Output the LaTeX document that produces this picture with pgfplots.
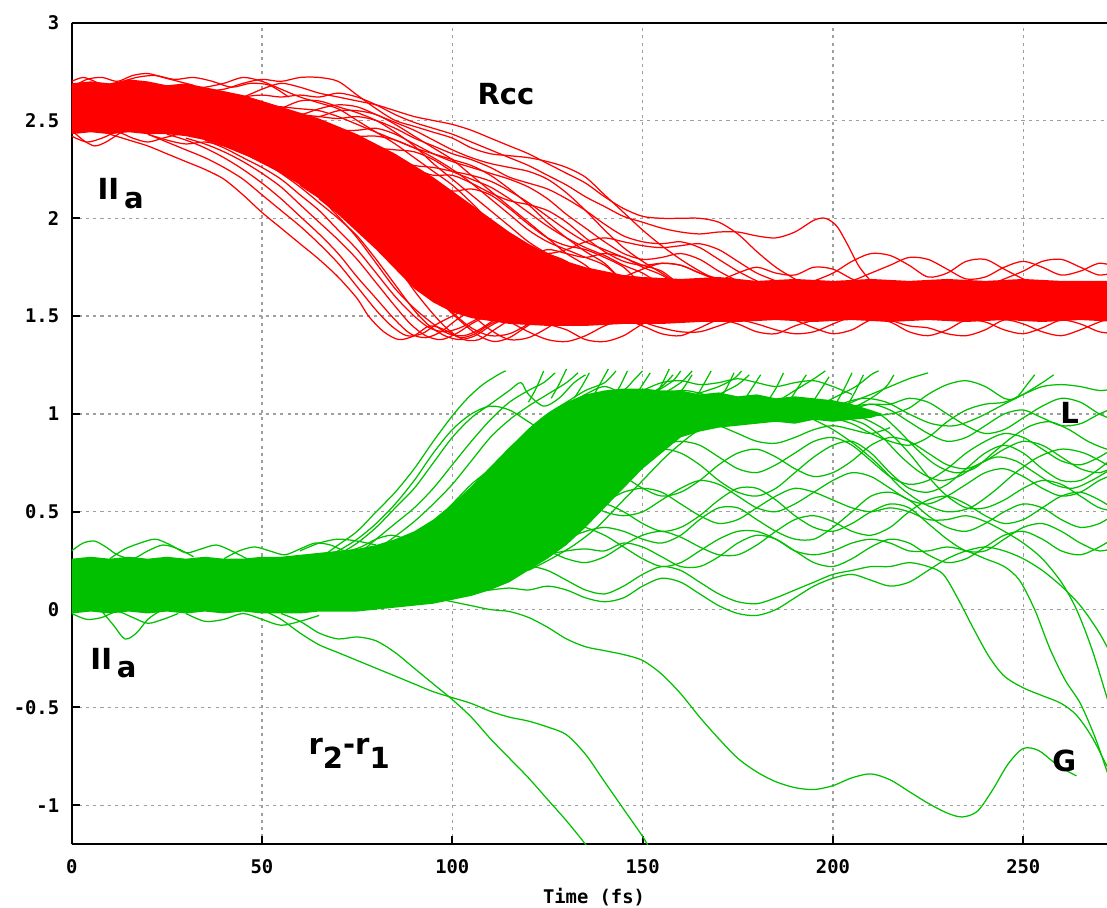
\documentclass[border=0pt]{standalone}
\usepackage{pgfplots}
\pgfplotsset{compat=1.18}
\usepackage{fontspec}
\setmainfont{DejaVu Sans}
\newfontfamily\monofam{DejaVu Sans Mono}
\newcommand\tickfont{\monofam\bfseries\fontsize{6.8}{8}\selectfont}
\newcommand\annfont{\bfseries\fontsize{10.5}{12}\selectfont}
\definecolor{gpred}{RGB}{255,0,0}
\definecolor{gpgreen}{RGB}{0,192,0}
\pgfplotsset{
  rl/.style={gpred, line width=0.45pt, smooth, no markers},
  gl/.style={gpgreen, line width=0.45pt, smooth, no markers},
}
\begin{document}
\begin{tikzpicture}
\begin{axis}[
  scale only axis, width=374.1pt, height=296.9pt,
  xmin=0, xmax=272, ymin=-1.2, ymax=3,
  axis x line*=bottom, axis y line*=left,
  axis line style={-, line width=0.7pt, black},
  every outer x axis line/.append style={-},
  every outer y axis line/.append style={-},
  xtick={0,50,100,150,200,250},
  ytick={-1,-0.5,0,0.5,1,1.5,2,2.5,3},
  tick align=inside, major tick length=3pt,
  tick style={line width=0.7pt, black},
  grid=major,
  major grid style={draw=gray!75, line width=0.5pt, dash pattern=on 1.1pt off 1.5pt},
  /pgf/number format/assume math mode=true,
  ticklabel style={font=\tickfont},
  yticklabel style={xshift=-1pt},
  xticklabel style={yshift=-2pt},
  xlabel={Time (fs)},
  xlabel style={font=\tickfont, at={(axis description cs:0.5045,0)}, anchor=center, yshift=-19.2pt},
]
% ---------- red dense core ----------
\addplot[fill=gpred, draw=none] coordinates {
(0,2.69)(5,2.70)(10,2.69)(15,2.71)(20,2.70)(25,2.68)(30,2.69)(35,2.67)(40,2.65)(45,2.63)(50,2.60)(55,2.57)(60,2.54)(65,2.51)(70,2.47)(75,2.43)(80,2.38)(85,2.33)(90,2.27)(95,2.21)(100,2.14)(105,2.07)(110,2.00)(115,1.93)(120,1.87)(125,1.82)(130,1.78)(135,1.75)(140,1.73)(145,1.71)(150,1.70)(160,1.69)(170,1.70)(180,1.68)(190,1.69)(200,1.68)(210,1.69)(220,1.68)(230,1.69)(240,1.68)(250,1.69)(260,1.68)(275,1.68)
(275,1.47)(265,1.48)(255,1.47)(245,1.48)(235,1.47)(225,1.48)(215,1.47)(205,1.48)(195,1.47)(185,1.48)(175,1.47)(165,1.47)(155,1.46)(145,1.46)(135,1.45)(125,1.45)(115,1.46)(105,1.49)(100,1.52)(95,1.57)(90,1.64)(85,1.74)(80,1.84)(75,1.93)(70,2.02)(65,2.10)(60,2.17)(55,2.23)(50,2.28)(45,2.33)(40,2.37)(35,2.40)(30,2.42)(25,2.43)(20,2.43)(15,2.44)(10,2.43)(5,2.44)(0,2.43)};
% ---------- red lines ----------
\addplot[rl] coordinates {(0,2.67)(4,2.71)(8,2.72)(12,2.70)(16,2.73)(20,2.74)(24,2.72)(28,2.70)(32,2.68)};
\addplot[rl] coordinates {(12,2.69)(17,2.72)(22,2.73)(27,2.71)(32,2.72)(37,2.70)(42,2.67)(47,2.69)(52,2.68)(57,2.62)};
\addplot[rl] coordinates {(0,2.70)(3,2.72)(6,2.70)(9,2.67)};
\addplot[rl] coordinates {(0,2.42)(4,2.39)(8,2.41)(12,2.44)(16,2.41)(20,2.39)(24,2.41)(28,2.43)};
\addplot[rl] coordinates {(0,2.45)(3,2.40)(6,2.37)(9,2.39)(13,2.44)};
\addplot[rl] coordinates {(20,2.43)(25,2.40)(30,2.38)(35,2.39)(40,2.37)(45,2.34)};
% late droppers
\addplot[rl] coordinates {(35,2.65)(40,2.66)(45,2.69)(50,2.71)(55,2.70)(60,2.72)(65,2.72)(70,2.70)(75,2.63)(80,2.56)(85,2.50)(90,2.47)(95,2.44)(100,2.41)(105,2.36)(110,2.33)(115,2.32)(120,2.31)(125,2.29)(130,2.26)(135,2.21)(140,2.12)(145,2.03)(150,1.94)(155,1.86)(160,1.79)(165,1.73)(170,1.68)(175,1.64)};
\addplot[rl] coordinates {(40,2.60)(45,2.62)(50,2.66)(55,2.69)(60,2.67)(65,2.64)(70,2.62)(75,2.60)(80,2.58)(85,2.55)(90,2.52)(95,2.50)(100,2.48)(105,2.45)(110,2.41)(115,2.37)(120,2.33)(125,2.28)(130,2.23)(135,2.18)(140,2.11)(145,2.05)(150,2.01)(155,2.00)(160,2.00)(165,2.00)(170,1.98)(175,1.92)(180,1.83)(185,1.75)(190,1.69)(195,1.64)};
\addplot[rl] coordinates {(40,2.60)(45,2.62)(50,2.63)(55,2.62)(60,2.63)(65,2.62)(70,2.64)(75,2.62)(80,2.58)(85,2.53)(90,2.49)(95,2.46)(100,2.43)(105,2.39)(110,2.35)(115,2.31)(120,2.27)(125,2.22)(130,2.17)(135,2.11)(140,2.06)(145,2.01)(150,1.98)(155,1.95)(160,1.93)(165,1.92)(170,1.93)(175,1.93)(180,1.91)(185,1.90)(190,1.93)(195,1.99)(198,2.00)(201,1.96)(204,1.86)(207,1.75)(211,1.66)(215,1.62)};
\addplot[rl] coordinates {(50,2.55)(55,2.54)(60,2.53)(65,2.52)(70,2.51)(75,2.52)(80,2.50)(85,2.46)(90,2.41)(95,2.37)(100,2.33)(105,2.30)(110,2.26)(115,2.21)(120,2.18)(125,2.15)(130,2.10)(135,2.04)(140,1.97)(145,1.91)(150,1.88)(155,1.87)(160,1.88)(165,1.85)(170,1.79)(175,1.73)(180,1.68)(185,1.64)};
\addplot[rl] coordinates {(60,2.48)(65,2.47)(70,2.45)(75,2.45)(80,2.46)(85,2.43)(90,2.38)(95,2.33)(100,2.29)(105,2.26)(110,2.23)(115,2.20)(120,2.16)(125,2.10)(130,2.02)(135,1.95)(140,1.88)(145,1.82)(150,1.79)(155,1.80)(160,1.82)(165,1.79)(170,1.73)(175,1.68)(180,1.64)};
\addplot[rl] coordinates {(70,2.40)(75,2.38)(80,2.36)(85,2.35)(90,2.34)(95,2.30)(100,2.24)(105,2.20)(110,2.16)(115,2.10)(120,2.03)(125,1.96)(130,1.90)(135,1.85)(140,1.81)(145,1.76)(150,1.72)(155,1.66)(160,1.63)};
\addplot[rl] coordinates {(80,2.30)(85,2.28)(90,2.25)(95,2.22)(100,2.22)(105,2.18)(110,2.13)(115,2.09)(120,2.07)(125,2.04)(130,1.98)(135,1.90)(140,1.83)(145,1.78)(150,1.76)(155,1.77)(160,1.76)(165,1.72)(170,1.68)(175,1.64)};
\addplot[rl] coordinates {(115,1.88)(120,1.84)(125,1.82)(130,1.84)(135,1.88)(140,1.90)(145,1.88)(150,1.86)(155,1.85)(160,1.86)(165,1.87)(170,1.84)(175,1.78)(180,1.72)(185,1.68)(190,1.64)};
\addplot[rl] coordinates {(55,2.56)(60,2.60)(65,2.60)(70,2.57)(75,2.54)(80,2.50)(85,2.44)(90,2.37)(95,2.28)(100,2.20)(105,2.12)(110,2.04)(115,1.96)(120,1.88)(125,1.82)(130,1.78)(135,1.70)(140,1.65)};
\addplot[rl] coordinates {(55,2.52)(60,2.52)(65,2.52)(70,2.55)(75,2.55)(80,2.53)(85,2.48)(90,2.42)(95,2.36)(100,2.30)(105,2.22)(110,2.14)(115,2.06)(120,1.98)(125,1.90)(130,1.82)(135,1.76)(140,1.68)(145,1.64)};
\addplot[rl] coordinates {(50,2.58)(55,2.57)(60,2.56)(65,2.55)(70,2.52)(75,2.48)(80,2.44)(85,2.40)(90,2.36)(95,2.33)(100,2.30)(105,2.27)(110,2.22)(115,2.15)(120,2.07)(125,1.98)(130,1.90)(135,1.83)(140,1.77)(145,1.68)(150,1.64)};
\addplot[rl] coordinates {(55,2.54)(60,2.53)(65,2.56)(70,2.58)(75,2.57)(80,2.53)(85,2.49)(90,2.45)(95,2.40)(100,2.35)(105,2.31)(110,2.28)(115,2.26)(120,2.24)(125,2.20)(130,2.13)(135,2.04)(140,1.94)(145,1.85)(150,1.78)(155,1.72)(160,1.66)(165,1.63)};
\addplot[rl] coordinates {(70,2.44)(75,2.42)(80,2.42)(85,2.40)(90,2.36)(95,2.31)(100,2.25)(105,2.18)(110,2.10)(115,2.02)(120,1.94)(125,1.88)(130,1.84)(135,1.80)(140,1.76)(145,1.68)(150,1.64)};
\addplot[rl] coordinates {(85,2.30)(90,2.27)(95,2.26)(100,2.24)(105,2.22)(110,2.19)(115,2.14)(120,2.08)(125,2.01)(130,1.94)(135,1.88)(140,1.84)(145,1.80)(150,1.76)(155,1.73)(160,1.66)(165,1.63)};
\addplot[rl] coordinates {(95,2.18)(100,2.14)(105,2.15)(110,2.12)(115,2.05)(120,1.97)(125,1.90)(130,1.86)(135,1.84)(140,1.80)(145,1.75)(150,1.66)(155,1.63)};
\addplot[rl] coordinates {(30,2.66)(35,2.67)(40,2.69)(45,2.72)(50,2.70)(55,2.66)(60,2.62)(65,2.59)(70,2.56)(75,2.50)(80,2.44)(85,2.38)(90,2.31)(95,2.24)(100,2.17)(105,2.08)(110,1.98)};
% early droppers
\addplot[rl] coordinates {(10,2.43)(15,2.40)(20,2.37)(25,2.33)(30,2.29)(35,2.25)(40,2.20)(45,2.12)(50,2.03)(55,1.95)(60,1.87)(65,1.79)(70,1.70)(75,1.59)(78,1.50)(82,1.42)(86,1.38)(90,1.40)(94,1.45)(98,1.43)(102,1.39)(106,1.41)(110,1.46)(114,1.49)(118,1.52)};
\addplot[rl] coordinates {(20,2.43)(25,2.39)(30,2.35)(35,2.31)(40,2.26)(45,2.20)(50,2.12)(55,2.04)(60,1.96)(65,1.87)(70,1.77)(75,1.65)(80,1.53)(84,1.45)(88,1.40)(92,1.41)(96,1.46)(100,1.50)(104,1.54)};
\addplot[rl] coordinates {(30,2.41)(35,2.38)(40,2.34)(45,2.29)(50,2.23)(55,2.16)(60,2.07)(65,1.98)(70,1.89)(75,1.79)(80,1.67)(85,1.55)(89,1.46)(93,1.40)(97,1.38)(101,1.41)(105,1.46)(109,1.50)(113,1.53)};
\addplot[rl] coordinates {(40,2.37)(45,2.33)(50,2.29)(55,2.23)(60,2.16)(65,2.08)(70,2.00)(75,1.91)(80,1.79)(85,1.66)(90,1.53)(94,1.45)(98,1.40)(102,1.38)(106,1.40)(110,1.45)(114,1.49)(118,1.52)};
\addplot[rl] coordinates {(50,2.29)(55,2.26)(60,2.21)(65,2.13)(70,2.05)(75,1.97)(80,1.88)(85,1.77)(90,1.63)(95,1.51)(99,1.43)(103,1.38)(107,1.38)(111,1.43)(115,1.48)(119,1.52)};
\addplot[rl] coordinates {(55,2.24)(58,2.20)(64,2.16)(70,2.09)(77,1.99)(84,1.87)(91,1.71)(97,1.57)(103,1.46)(107,1.40)(111,1.37)(115,1.39)(119,1.44)(123,1.49)(127,1.52)};
\addplot[rl] coordinates {(60,2.17)(65,2.11)(71,2.09)(78,2.03)(85,1.93)(92,1.79)(99,1.63)(105,1.51)(110,1.43)(115,1.38)(120,1.39)(125,1.44)(129,1.49)(133,1.52)};
\addplot[rl] coordinates {(25,2.43)(30,2.40)(35,2.36)(40,2.31)(45,2.25)(50,2.18)(55,2.10)(60,2.01)(65,1.92)(70,1.82)(75,1.70)(80,1.59)(85,1.48)(89,1.41)(93,1.39)(97,1.42)(101,1.48)(105,1.53)};
\addplot[rl] coordinates {(65,2.10)(70,2.03)(76,1.98)(82,1.90)(88,1.78)(94,1.64)(100,1.52)(105,1.44)(110,1.40)(115,1.41)(120,1.46)(124,1.51)};
\addplot[rl] coordinates {(35,2.40)(40,2.36)(45,2.31)(50,2.26)(55,2.20)(60,2.12)(65,2.04)(70,1.94)(75,1.84)(80,1.72)(85,1.60)(90,1.50)(94,1.44)(98,1.42)(102,1.44)(106,1.48)(110,1.52)};
\addplot[rl] coordinates {(45,2.34)(50,2.31)(55,2.27)(60,2.20)(65,2.11)(70,2.01)(75,1.90)(80,1.77)(85,1.64)(90,1.54)(95,1.46)(99,1.41)(103,1.40)(107,1.43)(111,1.48)(115,1.52)};
% band fringes after transition
\addplot[rl] coordinates {(110,1.50)(115,1.47)(120,1.42)(125,1.38)(130,1.37)(135,1.40)(140,1.45)(145,1.48)(150,1.45)(155,1.41)(160,1.40)(165,1.44)(170,1.48)(175,1.46)(180,1.42)(185,1.41)(190,1.45)(195,1.48)(200,1.51)};
\addplot[rl] coordinates {(185,1.51)(190,1.48)(195,1.44)(200,1.41)(205,1.43)(210,1.48)(215,1.47)(220,1.42)(225,1.40)(230,1.43)(235,1.48)(240,1.47)(245,1.43)(250,1.41)(255,1.44)(260,1.48)(265,1.46)(270,1.42)(275,1.41)};
\addplot[rl] coordinates {(120,1.50)(125,1.46)(130,1.43)(135,1.38)(140,1.37)(145,1.40)(150,1.46)(155,1.50)};
\addplot[rl] coordinates {(145,1.51)(150,1.47)(155,1.44)(160,1.42)(165,1.42)(170,1.45)(175,1.48)(180,1.46)(185,1.43)(190,1.41)(195,1.42)(200,1.46)(205,1.50)};
\addplot[rl] coordinates {(210,1.51)(215,1.48)(220,1.45)(225,1.44)(230,1.41)(235,1.40)(240,1.43)(245,1.48)(250,1.46)(255,1.42)(260,1.40)(265,1.43)(270,1.47)(275,1.50)};
\addplot[rl] coordinates {(190,1.65)(195,1.68)(200,1.72)(205,1.78)(210,1.82)(215,1.81)(220,1.76)(225,1.70)(230,1.72)(235,1.78)(240,1.79)(245,1.74)(250,1.69)(255,1.65)};
\addplot[rl] coordinates {(200,1.65)(205,1.68)(210,1.72)(215,1.76)(220,1.80)(225,1.79)(230,1.74)(235,1.69)(240,1.70)(245,1.75)(250,1.78)(255,1.75)(260,1.71)(265,1.73)(270,1.77)(275,1.75)};
\addplot[rl] coordinates {(140,1.66)(145,1.70)(150,1.74)(155,1.77)(160,1.76)(165,1.72)(170,1.69)(175,1.65)};
\addplot[rl] coordinates {(165,1.65)(170,1.68)(175,1.72)(180,1.75)(185,1.72)(190,1.71)(195,1.75)(200,1.74)(205,1.69)(210,1.65)};
\addplot[rl] coordinates {(240,1.65)(245,1.69)(250,1.73)(255,1.78)(260,1.79)(265,1.75)(270,1.71)(275,1.73)};
\addplot[rl] coordinates {(120,1.80)(125,1.84)(130,1.82)(135,1.80)(140,1.82)(145,1.80)(150,1.75)(155,1.71)(160,1.65)};
% ---------- green dense core ----------
\addplot[fill=gpgreen, draw=none] coordinates {
(0,0.26)(5,0.27)(10,0.26)(15,0.27)(20,0.26)(25,0.27)(30,0.26)(35,0.27)(40,0.26)(45,0.26)(50,0.27)(55,0.27)(60,0.28)(65,0.29)(70,0.30)(75,0.31)(80,0.33)(85,0.36)(90,0.40)(95,0.46)(100,0.54)(105,0.63)(110,0.73)(115,0.83)(120,0.92)(125,1.00)(130,1.06)(135,1.10)(140,1.12)(145,1.13)(150,1.13)(155,1.12)(160,1.12)(165,1.10)(170,1.11)(175,1.09)(180,1.10)(185,1.08)(190,1.09)(195,1.08)(200,1.07)(205,1.05)(210,1.02)(213,1.00)
(210,0.98)(205,0.97)(200,0.96)(195,0.97)(190,0.95)(185,0.96)(180,0.95)(175,0.94)(170,0.93)(165,0.91)(160,0.88)(155,0.80)(150,0.72)(145,0.62)(140,0.52)(135,0.42)(130,0.33)(125,0.26)(120,0.20)(115,0.14)(110,0.10)(105,0.07)(100,0.05)(95,0.03)(90,0.02)(85,0.01)(80,0.0)(75,-0.01)(70,-0.01)(65,-0.01)(60,-0.02)(55,-0.02)(50,-0.02)(45,-0.01)(40,-0.02)(35,-0.01)(30,-0.02)(25,-0.01)(20,-0.02)(15,-0.01)(10,-0.02)(5,-0.01)(0,-0.02)};
% ---------- green lines ----------
\addplot[gl] coordinates {(0,0.30)(3,0.34)(6,0.35)(9,0.32)(12,0.28)(16,0.26)(20,0.30)(24,0.33)(28,0.31)(32,0.27)};
\addplot[gl] coordinates {(10,0.26)(14,0.31)(18,0.34)(22,0.36)(26,0.33)(30,0.29)(34,0.31)(38,0.33)(42,0.30)(46,0.26)};
\addplot[gl] coordinates {(40,0.26)(44,0.30)(48,0.32)(52,0.30)(56,0.28)(60,0.31)(64,0.34)(68,0.33)(72,0.30)(76,0.32)(80,0.36)(84,0.38)(88,0.36)(92,0.34)};
\addplot[gl] coordinates {(0,-0.02)(4,-0.05)(8,-0.04)(12,-0.01)(16,-0.04)(20,-0.07)(24,-0.05)(28,-0.02)};
\addplot[gl] coordinates {(8,-0.01)(11,-0.08)(14,-0.15)(17,-0.12)(20,-0.05)(23,-0.01)};
\addplot[gl] coordinates {(30,-0.02)(35,-0.06)(40,-0.05)(45,-0.02)(50,-0.05)(55,-0.08)(60,-0.06)(65,-0.03)};
\addplot[gl] coordinates {(60,0.30)(65,0.34)(70,0.36)(75,0.35)(80,0.33)};
% risers
\addplot[gl] coordinates {(60,0.20)(65,0.26)(70,0.33)(75,0.40)(80,0.50)(85,0.60)(90,0.72)(95,0.86)(100,0.99)(104,1.08)(108,1.15)(112,1.20)(114,1.22)};
\addplot[gl] coordinates {(65,0.22)(70,0.28)(75,0.34)(80,0.42)(85,0.52)(90,0.62)(95,0.75)(100,0.88)(105,0.98)(110,1.05)(115,1.12)(118,1.16)(120,1.10)(124,1.04)(128,1.08)(132,1.16)(135,1.20)};
\addplot[gl] coordinates {(70,0.22)(75,0.28)(80,0.36)(85,0.44)(90,0.52)(95,0.62)(100,0.74)(105,0.86)(110,0.97)(115,1.06)(120,1.12)(124,1.16)(127,1.21)};
\addplot[gl] coordinates {(72,0.20)(78,0.28)(84,0.36)(90,0.45)(95,0.54)(100,0.64)(105,0.76)(110,0.88)(115,0.97)(120,1.04)(125,1.10)(130,1.16)(133,1.21)};
\addplot[gl] coordinates {(80,0.22)(85,0.30)(90,0.36)(95,0.44)(100,0.54)(105,0.64)(110,0.72)(115,0.82)(120,0.92)(125,1.00)(130,1.06)(135,1.12)(140,1.16)(143,1.22)};
\addplot[gl] coordinates {(85,0.20)(90,0.26)(95,0.33)(100,0.42)(105,0.52)(110,0.62)(115,0.72)(120,0.84)(125,0.95)(130,1.04)(135,1.10)(140,1.14)(145,1.10)(150,1.06)(155,1.10)(160,1.16)(163,1.22)};
\addplot[gl] coordinates {(88,0.20)(94,0.26)(100,0.34)(105,0.42)(110,0.52)(115,0.63)(120,0.74)(125,0.84)(130,0.93)(135,1.00)(140,1.07)(145,1.12)(148,1.18)(150,1.22)};
\addplot[gl] coordinates {(92,0.20)(98,0.27)(104,0.35)(110,0.44)(115,0.52)(120,0.62)(125,0.73)(130,0.84)(135,0.94)(140,1.02)(145,1.08)(150,1.12)(155,1.10)(160,1.06)(165,1.06)(170,1.10)(175,1.15)(178,1.20)};
\addplot[gl] coordinates {(95,0.20)(100,0.25)(106,0.32)(112,0.42)(118,0.52)(124,0.64)(130,0.76)(136,0.88)(142,0.98)(148,1.06)(154,1.12)(158,1.17)(160,1.22)};
\addplot[gl] coordinates {(100,0.22)(106,0.28)(112,0.35)(118,0.45)(124,0.56)(130,0.68)(136,0.80)(142,0.92)(148,1.02)(154,1.08)(160,1.12)(166,1.10)(172,1.05)(178,1.02)(184,1.05)(190,1.12)(195,1.18)(198,1.22)};
\addplot[gl] coordinates {(105,0.20)(110,0.26)(116,0.34)(122,0.44)(128,0.56)(134,0.68)(140,0.80)(146,0.90)(152,0.98)(158,1.05)(164,1.10)(170,1.14)(174,1.18)(176,1.22)};
\addplot[gl] coordinates {(110,0.22)(116,0.28)(122,0.36)(128,0.46)(134,0.58)(140,0.70)(146,0.82)(152,0.92)(158,1.00)(164,1.06)(170,1.08)(176,1.05)(182,1.00)(188,0.98)(194,1.02)(200,1.08)(206,1.14)(210,1.20)(212,1.22)};
\addplot[gl] coordinates {(112,0.18)(118,0.24)(124,0.30)(130,0.40)(136,0.52)(142,0.64)(148,0.76)(154,0.86)(160,0.94)(166,1.00)(172,1.04)(178,1.02)(184,0.98)(190,0.97)(196,1.00)(202,1.05)(208,1.08)(214,1.06)(220,1.00)(226,0.95)(232,0.94)(238,0.98)(244,1.04)(250,1.10)(255,1.16)(258,1.20)};
\addplot[gl] coordinates {(120,0.20)(126,0.26)(132,0.33)(138,0.42)(144,0.54)(150,0.66)(156,0.78)(162,0.88)(168,0.96)(174,1.02)(180,1.06)(186,1.04)(192,1.00)(198,0.98)(204,1.02)(210,1.08)(214,1.14)(216,1.20)};
\addplot[gl] coordinates {(65,0.25)(70,0.30)(75,0.36)(80,0.44)(85,0.54)(90,0.66)(95,0.80)(100,0.92)(105,1.00)(110,1.04)(115,1.02)(120,0.96)(125,0.90)(130,0.86)(135,0.88)(140,0.94)(145,1.02)(150,1.08)(155,1.14)(158,1.20)};
\addplot[gl] coordinates {(150,0.80)(155,0.86)(160,0.92)(165,0.96)(170,0.94)(175,0.90)(180,0.86)(185,0.85)(190,0.88)(195,0.92)(200,0.94)(205,0.92)(210,0.90)(215,0.93)};
\addplot[gl] coordinates {(150,1.12)(155,1.16)(160,1.17)(165,1.15)(170,1.16)(175,1.18)(180,1.16)(185,1.14)(190,1.16)(195,1.17)(200,1.14)(205,1.10)};
% tips
\addplot[gl] coordinates {(120,1.06)(122,1.13)(124,1.22)};
\addplot[gl] coordinates {(126,1.08)(128,1.15)(130,1.23)};
\addplot[gl] coordinates {(132,1.08)(134,1.14)(136,1.21)};
\addplot[gl] coordinates {(137,1.09)(139,1.16)(141,1.23)};
\addplot[gl] coordinates {(142,1.08)(144,1.14)(146,1.22)};
\addplot[gl] coordinates {(148,1.09)(150,1.15)(152,1.21)};
\addplot[gl] coordinates {(153,1.08)(155,1.15)(157,1.23)};
\addplot[gl] coordinates {(159,1.09)(161,1.14)(163,1.20)};
\addplot[gl] coordinates {(164,1.08)(166,1.15)(168,1.22)};
\addplot[gl] coordinates {(170,1.07)(172,1.13)(174,1.21)};
\addplot[gl] coordinates {(177,1.08)(179,1.14)(181,1.20)};
\addplot[gl] coordinates {(183,1.07)(185,1.13)(187,1.21)};
\addplot[gl] coordinates {(189,1.08)(191,1.14)(193,1.20)};
\addplot[gl] coordinates {(195,1.07)(197,1.13)(199,1.19)};
\addplot[gl] coordinates {(201,1.06)(203,1.13)(205,1.21)};
\addplot[gl] coordinates {(204,1.05)(206,1.12)(208,1.20)};
% wanderers
\addplot[gl] coordinates {(95,0.20)(100,0.24)(105,0.30)(110,0.38)(115,0.46)(120,0.52)(125,0.56)(130,0.58)(135,0.55)(140,0.50)(145,0.48)(150,0.50)(155,0.56)(160,0.62)(165,0.66)(170,0.64)(175,0.58)(180,0.52)(185,0.50)(190,0.54)(195,0.60)(200,0.66)(205,0.70)(210,0.68)(215,0.62)(220,0.56)(225,0.54)(230,0.58)(235,0.64)(240,0.70)(245,0.72)(250,0.68)(255,0.62)(260,0.58)(265,0.60)(270,0.66)(275,0.70)};
\addplot[gl] coordinates {(100,0.20)(105,0.22)(110,0.26)(115,0.30)(120,0.32)(125,0.30)(130,0.26)(135,0.24)(140,0.27)(145,0.33)(150,0.38)(155,0.40)(160,0.37)(165,0.32)(170,0.28)(175,0.28)(180,0.33)(185,0.40)(190,0.46)(195,0.48)(200,0.45)(205,0.40)(210,0.38)(215,0.42)(220,0.50)(225,0.56)(230,0.58)(235,0.54)(240,0.48)(245,0.44)(250,0.46)(255,0.52)(260,0.58)(265,0.60)(270,0.56)(275,0.50)};
\addplot[gl] coordinates {(105,0.25)(110,0.32)(115,0.40)(120,0.48)(125,0.56)(130,0.64)(135,0.70)(140,0.72)(145,0.68)(150,0.62)(155,0.58)(160,0.60)(165,0.66)(170,0.74)(175,0.80)(180,0.82)(185,0.78)(190,0.72)(195,0.68)(200,0.70)(205,0.76)(210,0.84)(215,0.88)(220,0.86)(225,0.80)(230,0.74)(235,0.72)(240,0.76)(245,0.82)(250,0.86)(255,0.84)(260,0.78)(265,0.72)(270,0.70)(275,0.74)};
\addplot[gl] coordinates {(110,0.15)(115,0.18)(120,0.22)(125,0.20)(130,0.15)(135,0.10)(140,0.08)(145,0.12)(150,0.18)(155,0.22)(160,0.20)(165,0.14)(170,0.08)(175,0.04)(180,0.03)(185,0.06)(190,0.10)(195,0.14)(200,0.18)(205,0.20)(210,0.22)(215,0.22)(220,0.24)(225,0.22)(229,0.18)(233,0.05)(237,-0.10)(241,-0.24)(245,-0.34)(250,-0.40)(255,-0.44)(260,-0.48)(264,-0.54)(268,-0.65)(272,-0.80)(276,-0.95)};
\addplot[gl] coordinates {(120,0.30)(125,0.38)(130,0.46)(135,0.52)(140,0.54)(145,0.50)(150,0.44)(155,0.40)(160,0.42)(165,0.48)(170,0.56)(175,0.62)(180,0.62)(185,0.56)(190,0.48)(195,0.42)(200,0.40)(205,0.44)(210,0.50)(215,0.54)(220,0.52)(225,0.44)(230,0.36)(235,0.30)(240,0.30)(245,0.36)(250,0.42)(255,0.44)(260,0.40)(265,0.34)(270,0.30)(275,0.32)};
\addplot[gl] coordinates {(130,0.40)(135,0.50)(140,0.60)(145,0.70)(150,0.78)(155,0.82)(160,0.80)(165,0.74)(170,0.66)(175,0.60)(180,0.58)(185,0.62)(190,0.70)(195,0.78)(200,0.84)(205,0.86)(210,0.80)(215,0.70)(220,0.62)(225,0.60)(230,0.64)(235,0.72)(240,0.80)(245,0.84)(250,0.80)(255,0.72)(260,0.66)(265,0.66)(270,0.72)(275,0.80)};
\addplot[gl] coordinates {(115,0.20)(120,0.24)(125,0.28)(130,0.30)(135,0.31)(140,0.30)(145,0.34)(150,0.32)(155,0.27)(160,0.22)(165,0.22)(170,0.27)(175,0.34)(180,0.38)(185,0.36)(190,0.30)(195,0.24)(200,0.22)(205,0.26)(210,0.32)(215,0.36)(220,0.34)(225,0.28)(230,0.24)(235,0.26)(240,0.32)(245,0.38)(250,0.40)(255,0.36)(260,0.30)(265,0.28)(270,0.32)(275,0.38)};
\addplot[gl] coordinates {(140,0.62)(145,0.70)(150,0.78)(155,0.84)(160,0.86)(165,0.84)(170,0.78)(175,0.72)(180,0.70)(185,0.74)(190,0.80)(195,0.86)(200,0.88)(205,0.84)(210,0.76)(215,0.68)(220,0.64)(225,0.66)(230,0.72)(235,0.80)(240,0.86)(245,0.90)(250,0.88)(255,0.82)(260,0.76)(265,0.74)(270,0.78)(275,0.84)};
\addplot[gl] coordinates {(125,0.30)(130,0.36)(135,0.40)(140,0.42)(145,0.40)(150,0.36)(155,0.34)(160,0.38)(165,0.46)(170,0.52)(175,0.52)(180,0.46)(185,0.40)(190,0.36)(195,0.36)(200,0.42)(205,0.50)(210,0.58)(215,0.60)(220,0.56)(225,0.48)(230,0.42)(235,0.40)(240,0.44)(245,0.50)(250,0.54)(255,0.52)(260,0.46)(265,0.42)(270,0.44)(275,0.50)};
\addplot[gl] coordinates {(100,0.08)(105,0.09)(110,0.10)(115,0.11)(120,0.10)(125,0.12)(130,0.10)(135,0.06)(140,0.04)(145,0.06)(150,0.12)(155,0.16)(160,0.14)(165,0.08)(170,0.02)(175,-0.02)(180,-0.03)(185,0.0)(190,0.06)(195,0.12)(200,0.16)(205,0.18)(210,0.15)(215,0.12)(220,0.14)(225,0.20)(230,0.26)(235,0.30)(240,0.32)(245,0.30)(250,0.26)(255,0.20)(260,0.12)(265,0.02)(270,-0.12)(275,-0.30)};
\addplot[gl] coordinates {(130,0.45)(135,0.42)(140,0.38)(145,0.32)(150,0.26)(155,0.22)(160,0.24)(165,0.30)(170,0.36)(175,0.40)(180,0.40)(185,0.36)(190,0.30)(195,0.28)(200,0.30)(205,0.34)(210,0.36)(215,0.34)(220,0.30)(225,0.30)(230,0.32)(235,0.30)(240,0.26)(245,0.22)(249,0.15)(253,0.0)(257,-0.20)(261,-0.36)(265,-0.48)(269,-0.66)(273,-0.88)(276,-1.0)};
\addplot[gl] coordinates {(140,0.55)(145,0.60)(150,0.62)(155,0.60)(160,0.54)(165,0.48)(170,0.44)(175,0.46)(180,0.52)(185,0.58)(190,0.62)(195,0.60)(200,0.56)(205,0.52)(210,0.50)(215,0.52)(220,0.50)(225,0.46)(230,0.46)(235,0.48)(240,0.45)(245,0.40)(250,0.34)(255,0.26)(260,0.14)(264,0.0)(268,-0.20)(272,-0.45)(276,-0.70)};
% L region
\addplot[gl] coordinates {(200,1.00)(205,1.06)(210,1.10)(215,1.14)(220,1.18)(225,1.21)};
\addplot[gl] coordinates {(205,0.99)(210,0.99)(215,1.00)(220,1.03)(225,1.10)(230,1.15)(235,1.17)(240,1.14)(245,1.08)(248,1.08)(251,1.15)(253,1.20)};
\addplot[gl] coordinates {(200,0.98)(205,0.95)(210,0.90)(215,0.86)(220,0.84)(225,0.88)(230,0.96)(235,1.02)(240,1.05)(245,1.06)(250,1.10)(255,1.14)(260,1.15)(265,1.14)(270,1.12)(275,1.13)};
\addplot[gl] coordinates {(205,1.02)(210,1.05)(215,1.02)(220,0.96)(225,0.90)(230,0.86)(235,0.88)(240,0.94)(245,1.00)(250,1.02)(255,0.98)(260,0.94)(265,0.95)(270,1.00)(275,1.04)};
\addplot[gl] coordinates {(205,1.02)(212,1.00)(217,0.92)(222,0.82)(227,0.74)(232,0.70)(237,0.72)(242,0.80)(247,0.88)(252,0.94)(257,0.96)(262,0.92)(267,0.86)(272,0.82)(275,0.82)};
\addplot[gl] coordinates {(203,0.98)(208,0.95)(213,0.88)(218,0.78)(223,0.70)(228,0.66)(233,0.68)(238,0.74)(243,0.78)(248,0.76)(253,0.70)(258,0.64)(263,0.62)(268,0.66)(275,0.74)};
\addplot[gl] coordinates {(205,1.00)(210,0.96)(215,0.90)(220,0.80)(225,0.68)(230,0.58)(235,0.52)(240,0.52)(245,0.56)(250,0.62)(255,0.66)(260,0.64)(265,0.58)(270,0.52)(275,0.50)};
\addplot[gl] coordinates {(205,1.04)(210,1.05)(215,1.05)(220,1.08)(225,1.06)(230,1.00)(235,0.94)(240,0.90)(245,0.92)(250,0.98)(255,1.04)(260,1.08)(265,1.06)(270,1.00)(275,0.96)};
\addplot[gl] coordinates {(195,0.97)(200,0.92)(206,0.84)(212,0.74)(218,0.62)(224,0.54)(230,0.50)(236,0.52)(242,0.60)(248,0.70)(254,0.78)(260,0.82)(266,0.80)(272,0.74)(275,0.70)};
% downward lines
\addplot[gl] coordinates {(55,-0.02)(60,-0.06)(65,-0.12)(70,-0.15)(75,-0.14)(80,-0.16)(85,-0.22)(90,-0.30)(95,-0.38)(100,-0.46)(105,-0.55)(110,-0.66)(115,-0.76)(120,-0.86)(125,-0.97)(130,-1.08)(135,-1.20)(138,-1.28)};
\addplot[gl] coordinates {(50,0.0)(55,-0.05)(60,-0.12)(65,-0.18)(70,-0.22)(75,-0.26)(80,-0.30)(85,-0.34)(90,-0.38)(95,-0.42)(100,-0.45)(105,-0.48)(110,-0.52)(115,-0.55)(120,-0.57)(125,-0.60)(130,-0.64)(135,-0.74)(140,-0.88)(145,-1.02)(150,-1.16)(153,-1.26)};
\addplot[gl] coordinates {(95,0.06)(100,0.04)(105,0.02)(110,0.0)(115,-0.01)(120,-0.04)(125,-0.09)(130,-0.15)(135,-0.19)(140,-0.21)(145,-0.23)(150,-0.26)(155,-0.33)(160,-0.43)(165,-0.55)(170,-0.66)(175,-0.76)(180,-0.83)(185,-0.88)(190,-0.91)(195,-0.92)(200,-0.90)(205,-0.86)(210,-0.84)(215,-0.87)(220,-0.93)(225,-0.99)(230,-1.04)(234,-1.06)(238,-1.03)(242,-0.92)(246,-0.79)(250,-0.71)(254,-0.72)(258,-0.78)(262,-0.83)(264,-0.85)};
% ---------- frame and annotations ----------
\draw[line width=0.7pt, black] (rel axis cs:0,1) -- (rel axis cs:1,1);
\node[anchor=base west, inner sep=0, font=\annfont] at (axis cs:106.5,2.58) {Rcc};
\node[anchor=base west, inner sep=0, font=\annfont] at (axis cs:6.65,2.095) {II\,\raisebox{-3pt}{a}};
\node[anchor=base west, inner sep=0, font=\annfont] at (axis cs:4.8,-0.307) {II\,\raisebox{-3pt}{a}};
\node[anchor=base west, inner sep=0, font=\annfont] at (axis cs:259.6,0.95) {L};
\node[anchor=base west, inner sep=0, font=\annfont] at (axis cs:257.5,-0.827) {G};
\node[anchor=base west, inner sep=0, font=\annfont] at (axis cs:62.1,-0.741) {r\raisebox{-5pt}{2}-r\raisebox{-5pt}{1}};
\coordinate (SW) at (rel axis cs:0,0);
\coordinate (NE) at (rel axis cs:1,1);
\end{axis}
\pgfresetboundingbox
\path ([xshift=-25.9pt,yshift=-22.66pt]SW) rectangle ([yshift=8.2pt]NE);
\end{tikzpicture}
\end{document}
